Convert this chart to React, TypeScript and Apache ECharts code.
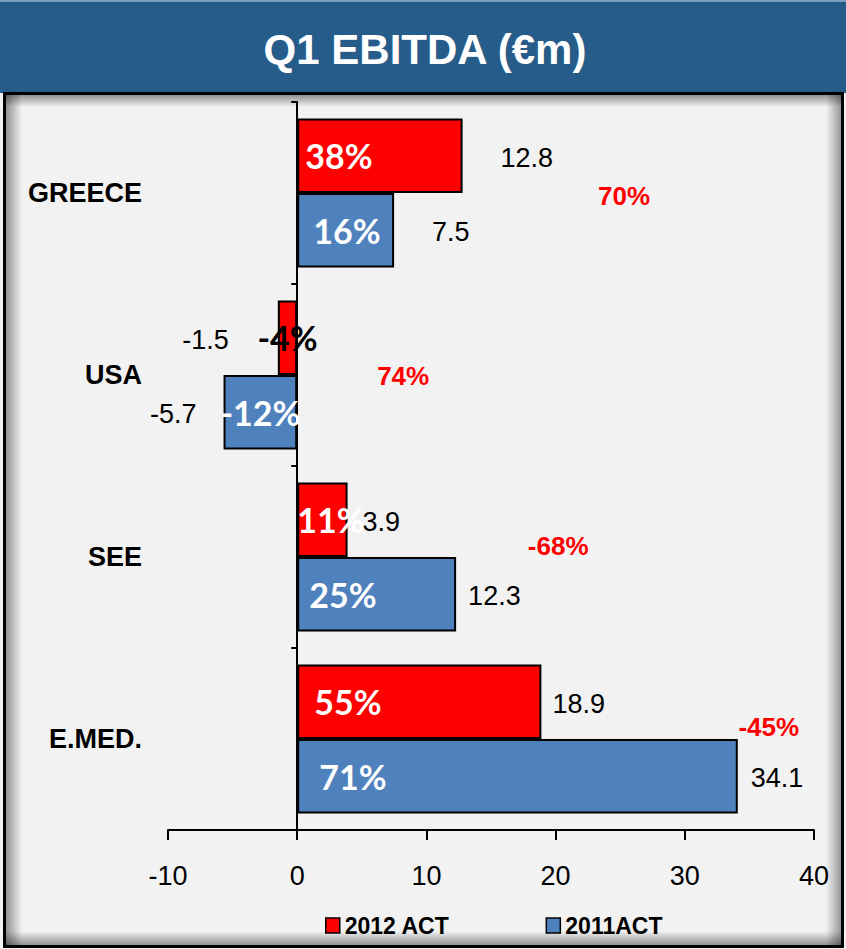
import React, { useEffect, useRef } from "react";
import * as echarts from "echarts";

// ---------- data ----------
const categories = ["GREECE", "USA", "SEE", "E.MED."];
const seriesNames = ["2012 ACT", "2011ACT"];
const ebitda2012 = [12.8, -1.5, 3.9, 18.9];
const ebitda2011 = [7.5, -5.7, 12.3, 34.1];
const margin2012 = ["38%", "-4%", "11%", "55%"];
const margin2011 = ["16%", "-12%", "25%", "71%"];
const changeLabels = ["70%", "74%", "-68%", "-45%"];
const xMin = -10;
const xMax = 40;
const xInterval = 10;
const titleText = "Q1 EBITDA (€m)";

// ---------- layout (label placement, not data) ----------
const valueDist2012 = [38, 49, 15, 11];
const valueDist2011 = [38, 27, 12, 13];
const pctDist2012 = [8, 0, 0, 17];
const pctDist2011 = [16, 0, 12, 22];
const changeAnchorX = [25.3, 8.2, 20.2, 36.5];
const changeOffsetY = [3, 1, -11, -12];

const FONT = "'Liberation Sans', Arial, sans-serif";
const PCT_FONT = "Lato, 'Open Sans', sans-serif";
const RED = "#FF0000";
const BLUE = "#4F81BD";

function valueData(vals: number[], dists: number[]) {
  return vals.map((v, i) => ({
    value: v,
    label: {
      position: v < 0 ? "left" : "right",
      distance: dists[i],
      offset: [0, 2],
    },
  }));
}

function pctData(vals: number[], pcts: string[], dists: number[], dark: boolean[]) {
  return vals.map((v, i) => ({
    value: v,
    label: {
      formatter: pcts[i],
      position: v < 0 ? "inside" : "insideLeft",
      distance: dists[i],
      color: dark[i] ? "#000000" : "#FFFFFF",
    },
  }));
}

export default function App() {
  const ref = useRef<HTMLDivElement>(null);

  useEffect(() => {
    document.body.style.margin = "0";
    if (!ref.current) return;
    const chart = echarts.init(ref.current, undefined, { renderer: "svg" });

    const shadow = (a: number) => `rgba(0,0,0,${a})`;
    const W = 846;

    const option: any = {
      animation: false,
      backgroundColor: "#F2F2F2",
      graphic: [
        { type: "rect", shape: { x: 0, y: 0, width: W, height: 93 }, style: { fill: "#265C89" }, z: 0 },
        { type: "rect", shape: { x: 0, y: 0, width: W, height: 2 }, style: { fill: "#7B9CBE" }, z: 0 },
        {
          type: "rect",
          shape: { x: 6, y: 95, width: 16, height: 850 },
          style: { fill: new echarts.graphic.LinearGradient(0, 0, 1, 0, [{ offset: 0, color: shadow(0.4) }, { offset: 1, color: shadow(0) }]) },
          z: 0,
        },
        {
          type: "rect",
          shape: { x: 6, y: 95, width: 836, height: 12 },
          style: { fill: new echarts.graphic.LinearGradient(0, 0, 0, 1, [{ offset: 0, color: shadow(0.4) }, { offset: 1, color: shadow(0) }]) },
          z: 0,
        },
        {
          type: "rect",
          shape: { x: 826, y: 95, width: 16, height: 850 },
          style: { fill: new echarts.graphic.LinearGradient(0, 0, 1, 0, [{ offset: 0, color: shadow(0) }, { offset: 1, color: shadow(0.4) }]) },
          z: 0,
        },
        {
          type: "rect",
          shape: { x: 6, y: 931, width: 836, height: 14 },
          style: { fill: new echarts.graphic.LinearGradient(0, 0, 0, 1, [{ offset: 0, color: shadow(0) }, { offset: 1, color: shadow(0.4) }]) },
          z: 0,
        },
        {
          type: "rect",
          shape: { x: 4.5, y: 93.5, width: 838, height: 853 },
          style: { fill: "none", stroke: "#000000", lineWidth: 3 },
          z: 1,
        },
        {
          type: "text",
          x: 425,
          y: 49,
          style: {
            text: titleText,
            fill: "#FFFFFF",
            fontSize: 42,
            fontWeight: "bold",
            fontFamily: FONT,
            align: "center",
            verticalAlign: "middle",
          },
          z: 1,
        },
      ],
      legend: {
        data: seriesNames,
        left: 320,
        top: 909,
        itemWidth: 14,
        itemHeight: 15,
        itemGap: 96,
        itemStyle: { borderColor: "#000000", borderWidth: 1.5 },
        textStyle: { fontSize: 23, fontWeight: "bold", color: "#000000", fontFamily: FONT },
        icon: "rect",
      },
      grid: { left: 168, right: 32, top: 102, bottom: 119, containLabel: false, outerBoundsMode: "none" },
      xAxis: {
        type: "value",
        min: xMin,
        max: xMax,
        interval: xInterval,
        axisLine: { show: true, lineStyle: { color: "#000000", width: 2 } },
        axisTick: { show: true, length: 10, lineStyle: { color: "#000000", width: 2 } },
        axisLabel: { fontSize: 27, color: "#000000", fontFamily: FONT, margin: 32 },
        splitLine: { show: false },
      },
      yAxis: [
        {
          type: "category",
          data: categories,
          inverse: true,
          axisLine: { show: true, onZero: true, lineStyle: { color: "#000000", width: 2 } },
          axisTick: { show: true, length: 6, lineStyle: { color: "#000000", width: 2 } },
          axisLabel: {
            fontSize: 27,
            fontWeight: "bold",
            color: "#000000",
            fontFamily: FONT,
            margin: 26,
          },
        },
        {
          type: "category",
          data: categories,
          inverse: true,
          show: false,
        },
      ],
      series: [
        {
          name: seriesNames[0],
          type: "bar",
          yAxisIndex: 0,
          barGap: "0%",
          barCategoryGap: "18%",
          itemStyle: { color: RED, borderColor: "#000000", borderWidth: 2 },
          label: {
            show: true,
            fontSize: 27,
            color: "#000000",
            fontFamily: FONT,
            formatter: (p: any) => Number(p.value).toFixed(1),
          },
          data: valueData(ebitda2012, valueDist2012),
          z: 2,
        },
        {
          name: seriesNames[1],
          type: "bar",
          yAxisIndex: 0,
          barGap: "0%",
          barCategoryGap: "18%",
          itemStyle: { color: BLUE, borderColor: "#000000", borderWidth: 2 },
          label: {
            show: true,
            fontSize: 27,
            color: "#000000",
            fontFamily: FONT,
            formatter: (p: any) => Number(p.value).toFixed(1),
          },
          data: valueData(ebitda2011, valueDist2011),
          z: 2,
        },
        {
          name: "pct2012",
          type: "bar",
          yAxisIndex: 1,
          barGap: "0%",
          barCategoryGap: "18%",
          silent: true,
          itemStyle: { color: "rgba(0,0,0,0)", borderWidth: 0 },
          label: { show: true, fontSize: 34, fontWeight: "bold", fontFamily: PCT_FONT },
          data: pctData(ebitda2012, margin2012, pctDist2012, [false, true, false, false]),
          z: 5,
        },
        {
          name: "pct2011",
          type: "bar",
          yAxisIndex: 1,
          barGap: "0%",
          barCategoryGap: "18%",
          silent: true,
          itemStyle: { color: "rgba(0,0,0,0)", borderWidth: 0 },
          label: { show: true, fontSize: 34, fontWeight: "bold", fontFamily: PCT_FONT },
          data: pctData(ebitda2011, margin2011, pctDist2011, [false, false, false, false]),
          z: 5,
        },
        {
          name: "change",
          type: "scatter",
          yAxisIndex: 0,
          symbolSize: 1,
          silent: true,
          itemStyle: { color: "rgba(0,0,0,0)", opacity: 1 },
          label: {
            show: true,
            position: "inside",
            fontSize: 26,
            fontWeight: "bold",
            color: RED,
            opacity: 1,
            fontFamily: FONT,
          },
          data: categories.map((c, i) => ({
            value: [changeAnchorX[i], c],
            label: { formatter: changeLabels[i], offset: [0, changeOffsetY[i]] },
          })),
          z: 5,
        },
      ],
    };

    chart.setOption(option);
    return () => chart.dispose();
  }, []);

  return <div ref={ref} style={{ width: 846, height: 949 }} />;
}
